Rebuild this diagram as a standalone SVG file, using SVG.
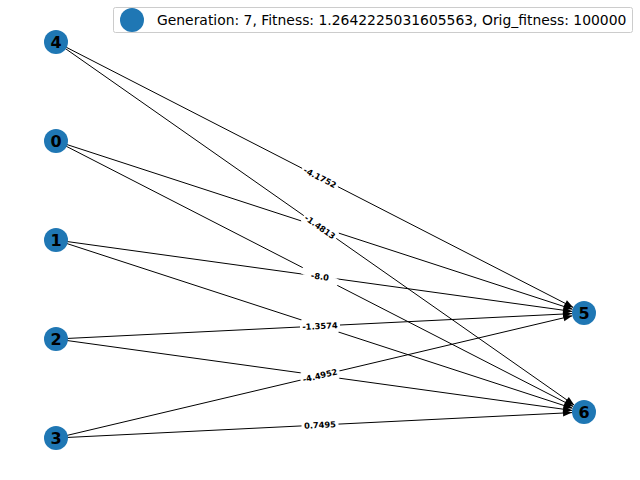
<svg xmlns="http://www.w3.org/2000/svg" width="640" height="480" viewBox="0 0 640 480">
<style>
.edge{stroke:#000;stroke-width:1;fill:none;marker-end:url(#arr)}
.node circle{fill:#1f77b4}
.node text{font-family:"DejaVu Sans",sans-serif;font-weight:bold;font-size:16px;fill:#000;text-anchor:middle;dominant-baseline:central}
.lbl rect{fill:#fff;stroke:#fff}
.lbl text{font-family:"DejaVu Sans",sans-serif;font-weight:bold;font-size:8.3px;fill:#000;text-anchor:middle;dominant-baseline:central}
.legend text{font-family:"DejaVu Sans",sans-serif;font-size:13.9px;fill:#000}
</style>
<defs>
<marker id="arr" markerUnits="userSpaceOnUse" markerWidth="12" markerHeight="10" viewBox="-10 -5 12 10" refX="0" refY="0" orient="auto">
<path d="M0,0 L-9,-3.5 L-9,3.5 Z" fill="#000"/>
</marker>
</defs>
<rect width="640" height="480" fill="#fff"/>
<g id="connectors">
<line class="edge" x1="56" y1="141" x2="572.6" y2="309.3"/>
<line class="edge" x1="56" y1="141" x2="573.3" y2="406.5"/>
<line class="edge" x1="56" y1="240" x2="572.1" y2="311.4"/>
<line class="edge" x1="56" y1="240" x2="572.6" y2="408.3"/>
<line class="edge" x1="56" y1="339" x2="572.0" y2="313.6"/>
<line class="edge" x1="56" y1="339" x2="572.1" y2="410.4"/>
<line class="edge" x1="56" y1="438" x2="572.3" y2="315.8"/>
<line class="edge" x1="56" y1="438" x2="572.0" y2="412.6"/>
<line class="edge" x1="56" y1="42" x2="573.3" y2="307.5"/>
<line class="edge" x1="56" y1="42" x2="574.2" y2="405.1"/>
</g>
<g id="edge-labels">
<g class="lbl" transform="translate(320,227) rotate(18)"><rect x="-19" y="-5.5" width="38" height="11" rx="2"/></g>
<g class="lbl" transform="translate(320,276.5) rotate(27.2)"><rect x="-19" y="-5.5" width="38" height="11" rx="2"/></g>
<g class="lbl" transform="translate(320,326) rotate(18)"><rect x="-19" y="-5.5" width="38" height="11" rx="2"/></g>
<g class="lbl" transform="translate(320,375.5) rotate(7.9)"><rect x="-19" y="-5.5" width="38" height="11" rx="2"/></g>
<g class="lbl" transform="translate(320,177.5) rotate(27.17)"><rect x="-19.5" y="-5.5" width="39" height="11" rx="2"/><text x="0" y="0">-4.1752</text></g>
<g class="lbl" transform="translate(320,227) rotate(35.02)"><rect x="-19.5" y="-5.5" width="39" height="11" rx="2"/><text x="0" y="0">-1.4813</text></g>
<g class="lbl" transform="translate(320,276.5) rotate(7.87)"><rect x="-11" y="-5.5" width="22" height="11" rx="2"/><text x="0" y="0">-8.0</text></g>
<g class="lbl" transform="translate(320,326) rotate(-2.82)"><rect x="-19.5" y="-5.5" width="39" height="11" rx="2"/><text x="0" y="0">-1.3574</text></g>
<g class="lbl" transform="translate(320,375.5) rotate(-13.32)"><rect x="-19.5" y="-5.5" width="39" height="11" rx="2"/><text x="0" y="0">-4.4952</text></g>
<g class="lbl" transform="translate(320,425) rotate(-2.82)"><rect x="-18" y="-5.5" width="36" height="11" rx="2"/><text x="0" y="0">0.7495</text></g>
</g>
<g id="node-4" class="node"><circle cx="56" cy="42" r="12"/><text x="56" y="42">4</text></g>
<g id="node-0" class="node"><circle cx="56" cy="141" r="12"/><text x="56" y="141">0</text></g>
<g id="node-1" class="node"><circle cx="56" cy="240" r="12"/><text x="56" y="240">1</text></g>
<g id="node-2" class="node"><circle cx="56" cy="339" r="12"/><text x="56" y="339">2</text></g>
<g id="node-3" class="node"><circle cx="56" cy="438" r="12"/><text x="56" y="438">3</text></g>
<g id="node-5" class="node"><circle cx="584" cy="313" r="12"/><text x="584" y="313">5</text></g>
<g id="node-6" class="node"><circle cx="584" cy="412" r="12"/><text x="584" y="412">6</text></g>
<g id="legend" class="legend">
<rect x="113.5" y="7.5" width="519" height="25" rx="2" fill="#fff" fill-opacity="0.8" stroke="#ccc" stroke-width="1"/>
<circle cx="132" cy="20" r="12" fill="#1f77b4"/>
<text x="157" y="25">Generation: 7, Fitness: 1.2642225031605563, Orig_fitness: 100000</text>
</g>
</svg>
